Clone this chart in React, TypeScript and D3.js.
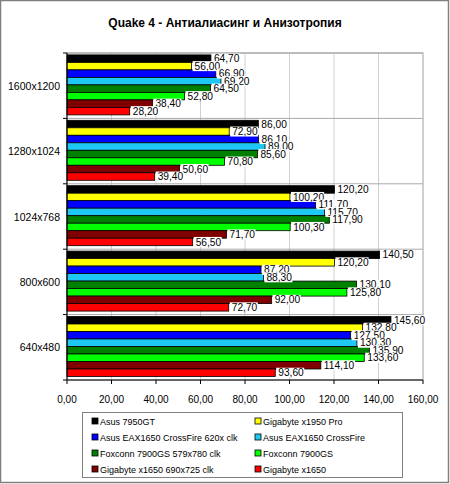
import React from 'react';
import * as d3 from 'd3';

const title = 'Quake 4 - Антиалиасинг и Анизотропия';

const resolutions = ['1600x1200', '1280x1024', '1024x768', '800x600', '640x480'];

const seriesNames = [
  'Asus 7950GT',
  'Gigabyte x1950 Pro',
  'Asus EAX1650 CrossFire 620x clk',
  'Asus EAX1650 CrossFire',
  'Foxconn 7900GS 579x780 clk',
  'Foxconn 7900GS',
  'Gigabyte x1650 690x725 clk',
  'Gigabyte x1650',
];

const seriesColors = ['#000000', '#ffff00', '#0000ff', '#1ec8f5', '#008000', '#00ff00', '#800000', '#ff0000'];

// values per resolution, in the order of seriesNames
const res1600 = [64.7, 56.0, 66.9, 69.2, 64.5, 52.8, 38.4, 28.2];
const res1280 = [86.0, 72.9, 86.1, 89.0, 85.6, 70.8, 50.6, 39.4];
const res1024 = [120.2, 100.2, 111.7, 115.7, 117.9, 100.3, 71.7, 56.5];
const res800 = [140.5, 120.2, 87.2, 88.3, 130.1, 125.8, 92.0, 72.7];
const res640 = [145.6, 132.8, 127.5, 130.3, 135.9, 133.6, 114.1, 93.6];

const values = [res1600, res1280, res1024, res800, res640];

const xTicks = [0, 20, 40, 60, 80, 100, 120, 140, 160];

const W = 450;
const H = 484;
const plot = { left: 67, right: 423, top: 53, bottom: 380 };
const font = 'Arial, "Liberation Sans", sans-serif';

const fmt = (v: number) => v.toFixed(2).replace('.', ',');

export default function App() {
  const x = d3.scaleLinear().domain([0, 160]).range([plot.left, plot.right]);
  const y = d3.scaleBand<string>().domain(resolutions).range([plot.top, plot.bottom]).padding(0);
  const inner = d3
    .scaleBand<string>()
    .domain(seriesNames)
    .range([0, y.bandwidth()])
    .paddingInner(0)
    .paddingOuter(0.36)
    .align(0.35);

  const labelW = (s: string) => s.length * 5.2 + 2;

  return (
    <div style={{ position: 'absolute', left: 0, top: 0 }}>
      <svg width={W} height={H} style={{ display: 'block', background: '#fff' }}>
        <rect x={0.5} y={0.5} width={W - 2} height={H - 2} fill="#fff" stroke="#808080" strokeWidth={1.5} />
        <text x={225} y={27} textAnchor="middle" fontFamily={font} fontSize={12} fontWeight="bold">
          {title}
        </text>

        {/* plot area */}
        <rect x={plot.left} y={plot.top} width={plot.right - plot.left} height={plot.bottom - plot.top} fill="#fff" stroke="#a0a0a0" />

        {/* vertical gridlines */}
        {xTicks.slice(1).map((t) => (
          <line key={'g' + t} x1={x(t)} x2={x(t)} y1={plot.top} y2={plot.bottom} stroke="#d0d0d0" />
        ))}
        {/* horizontal gridlines between categories */}
        {resolutions.map((r) => (
          <line key={'h' + r} x1={plot.left} x2={plot.right} y1={y(r)!} y2={y(r)!} stroke="#a8a8a8" />
        ))}

        {/* bars */}
        {resolutions.map((r, ri) =>
          seriesNames.map((s, si) => (
            <rect
              key={r + s}
              x={x(0)}
              y={y(r)! + inner(s)!}
              width={x(values[ri][si]) - x(0)}
              height={inner.bandwidth()}
              fill={seriesColors[si]}
              stroke="#000"
              strokeWidth={0.8}
            />
          ))
        )}

        {/* data labels */}
        {resolutions.map((r, ri) =>
          seriesNames.map((s, si) => {
            const v = values[ri][si];
            const cy = y(r)! + inner(s)! + inner.bandwidth() / 2;
            const lx = x(v) + 1;
            const txt = fmt(v);
            return (
              <g key={'l' + r + s}>
                <rect x={lx} y={cy - 5} width={labelW(txt)} height={10} fill="#fff" />
                <text x={lx + 2} y={cy + 3.6} fontFamily={font} fontSize={10.2} fill="#000">
                  {txt}
                </text>
              </g>
            );
          })
        )}

        {/* category axis */}
        <line x1={plot.left} x2={plot.left} y1={plot.top} y2={plot.bottom} stroke="#000" />
        {resolutions.map((r) => (
          <line key={'ct' + r} x1={plot.left - 4} x2={plot.left} y1={y(r)!} y2={y(r)!} stroke="#000" />
        ))}
        <line x1={plot.left - 4} x2={plot.left} y1={plot.bottom} y2={plot.bottom} stroke="#000" />
        {resolutions.map((r) => (
          <text
            key={'cl' + r}
            x={60}
            y={y(r)! + y.bandwidth() / 2 + 4}
            textAnchor="end"
            fontFamily={font}
            fontSize={10.5}
          >
            {r}
          </text>
        ))}

        {/* value axis */}
        <line x1={plot.left} x2={plot.right} y1={plot.bottom} y2={plot.bottom} stroke="#000" />
        {xTicks.map((t) => (
          <g key={'xt' + t}>
            <line x1={x(t)} x2={x(t)} y1={plot.bottom} y2={plot.bottom + 4} stroke="#000" />
            <text x={x(t)} y={plot.bottom + 23} textAnchor="middle" fontFamily={font} fontSize={10}>
              {fmt(t)}
            </text>
          </g>
        ))}

        {/* legend */}
        <rect x={82.5} y={412.5} width={320} height={65} fill="#fff" stroke="#808080" />
        {seriesNames.map((s, i) => {
          const col = i % 2;
          const row = Math.floor(i / 2);
          const lx = col === 0 ? 92 : 255;
          const ly = 421 + row * 16;
          return (
            <g key={'lg' + s}>
              <rect x={lx} y={ly - 3} width={6} height={6} fill={seriesColors[i]} stroke="#000" strokeWidth={0.8} />
              <text x={lx + 8} y={ly + 3.5} fontFamily={font} fontSize={9}>
                {s}
              </text>
            </g>
          );
        })}
      </svg>
    </div>
  );
}
